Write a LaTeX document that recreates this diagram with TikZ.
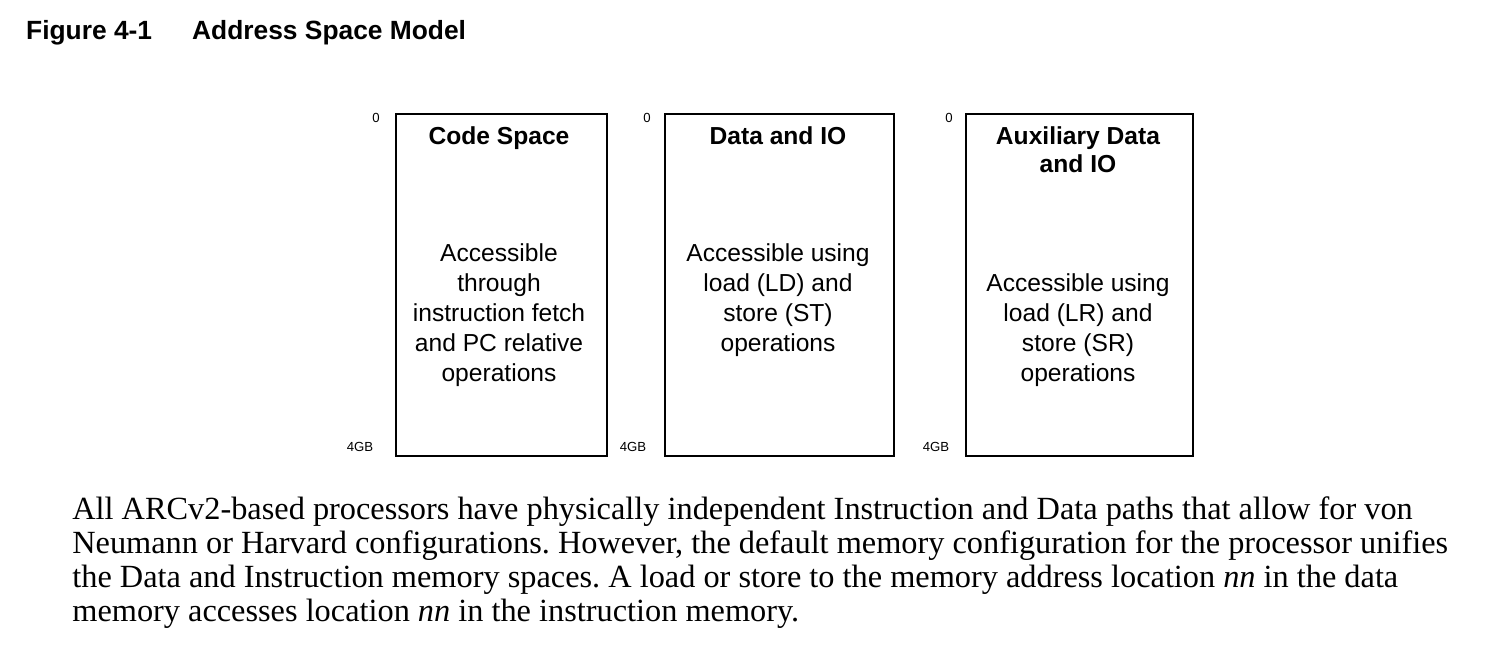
\documentclass[tikz,border=0pt]{standalone}
\usepackage{fontspec}
\setsansfont{Liberation Sans}
\setmainfont{Liberation Serif}
\usetikzlibrary{positioning}
\tikzstyle{space} = [rectangle, draw=black, line width=1.2pt, minimum width=211*0.02cm, minimum height=342*0.02cm, anchor=north west]
\tikzstyle{head} = [font=\sffamily\bfseries\fontsize{14}{16}\selectfont, align=center, anchor=north]
\tikzstyle{body} = [font=\sffamily\fontsize{14}{17}\selectfont, align=center]
\tikzstyle{addr} = [font=\sffamily\fontsize{7.5}{9}\selectfont]
\begin{document}
\frenchspacing
\begin{tikzpicture}[x=0.02cm, y=-0.02cm]
			\useasboundingbox (0,0) rectangle (1488,666);
			\node[anchor=west, font=\sffamily\bfseries\fontsize{15}{17}\selectfont] (fig) at (20,33) {Figure 4-1};
			\node[anchor=west, font=\sffamily\bfseries\fontsize{15}{17}\selectfont] (title) at (186,33) {Address Space Model};
			
			\node (code) [space] at (395,113) {};
			\node (data) [space, minimum width=229*0.02cm] at (664,113) {};
			\node (aux) [space, minimum width=227*0.02cm] at (965,113) {};
			
			\node (codeh) [head] at (499,120) {Code Space};
			\node (datah) [head] at (778,120) {Data and IO};
			\node (auxh) [head] at (1078,120) {Auxiliary Data\\and IO};
			
			\node (codeb) [body] at (499,315) {Accessible\\through\\instruction fetch\\and PC relative\\operations};
			\node (datab) [body] at (778,300) {Accessible using\\load (LD) and\\store (ST)\\operations};
			\node (auxb) [body] at (1078,330) {Accessible using\\load (LR) and\\store (SR)\\operations};
			
			\node (z1) [addr] at (376,118) {0};
			\node (z2) [addr] at (647,118) {0};
			\node (z3) [addr] at (949,118) {0};
			\node (g1) [addr] at (360,447) {4GB};
			\node (g2) [addr] at (633,447) {4GB};
			\node (g3) [addr] at (936,447) {4GB};
			
			\node[anchor=north west, align=left, inner sep=0pt, font=\fontsize{18.4}{19.4}\selectfont] (para) at (72,496) {All ARCv2-based processors have physically independent Instruction and Data paths that allow for von\\Neumann or Harvard configurations. However, the default memory configuration for the processor unifies\\the Data and Instruction memory spaces. A load or store to the memory address location \textit{nn} in the data\\memory accesses location \textit{nn} in the instruction memory.};
\end{tikzpicture}
\end{document}
